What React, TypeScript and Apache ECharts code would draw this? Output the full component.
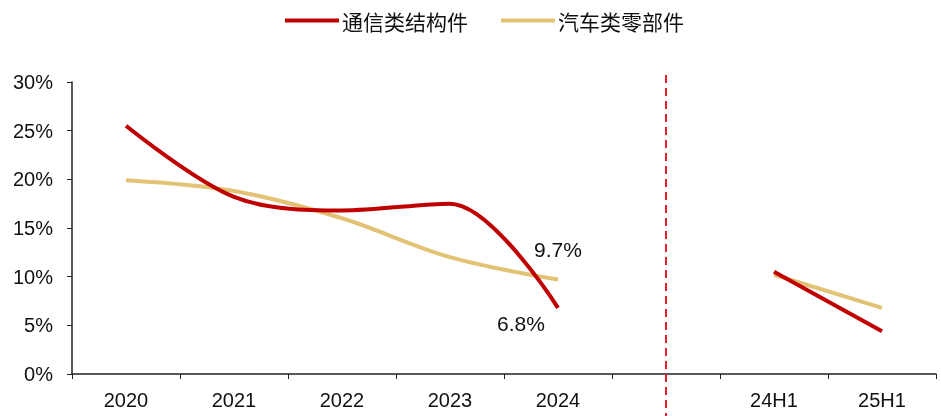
import React, { useEffect, useRef } from "react";
import * as echarts from "echarts";

const categories = ["2020", "2021", "2022", "2023", "2024", "", "24H1", "25H1"];
const commStruct = [25.5, 18.2, 16.8, 17.5, 6.8, null, 10.5, 4.4];
const autoParts = [19.9, 18.8, 16.0, 12.0, 9.7, null, 10.2, 6.8];
const seriesNames = ["通信类结构件", "汽车类零部件"];
const yTicks = { min: 0, max: 30, interval: 5 };
const dividerIndex = 5;
const labelIndex = 4;

const RED = "#C00000";
const GOLD = "#E2C275";
const FONT = "Liberation Sans, Arial, sans-serif";

export default function App() {
  const ref = useRef<HTMLDivElement>(null);
  useEffect(() => {
    if (!ref.current) return;
    const chart = echarts.init(ref.current, null, { renderer: "svg" });
    const mk = (arr: (number | null)[], labelOpt: any) =>
      arr.map((v, i) =>
        i === labelIndex ? { value: v, label: labelOpt } : v
      );
    chart.setOption({
      animation: false,
      textStyle: { fontFamily: FONT },
      legend: {
        top: 5,
        left: 280,
        itemWidth: 54,
        itemHeight: 4,
        itemGap: 33,
        icon: "rect",
        textStyle: {
          fontFamily: "Noto Sans CJK SC",
          fontSize: 21,
          color: "#111",
          padding: [0, 0, 0, -2],
        },
        data: seriesNames,
      },
      grid: { left: 72, right: 5, top: 82, bottom: 42 },
      xAxis: {
        type: "category",
        data: categories,
        boundaryGap: true,
        axisLine: { lineStyle: { color: "#222", width: 1.5 } },
        axisTick: { show: true, length: 5, lineStyle: { color: "#222" } },
        axisLabel: { fontSize: 20, color: "#111", margin: 16, fontFamily: FONT },
        splitLine: { show: false },
      },
      yAxis: {
        type: "value",
        min: yTicks.min,
        max: yTicks.max,
        interval: yTicks.interval,
        axisLine: { show: true, lineStyle: { color: "#222", width: 1.5 } },
        axisTick: { show: true, length: 5, lineStyle: { color: "#222" } },
        axisLabel: {
          fontSize: 20,
          color: "#111",
          margin: 19,
          fontFamily: FONT,
          formatter: "{value}%",
        },
        splitLine: { show: false },
      },
      series: [
        {
          name: seriesNames[0],
          type: "line",
          smooth: 0.33,
          showSymbol: true,
          symbol: "circle",
          symbolSize: 0,
          connectNulls: false,
          lineStyle: { color: RED, width: 4 },
          itemStyle: { color: RED },
          data: mk(commStruct, {
            show: true,
            position: "bottom",
            offset: [-37, 0],
            fontSize: 21,
            color: "#111",
            fontFamily: FONT,
            formatter: "{c}%",
          }),
          z: 3,
        },
        {
          name: seriesNames[1],
          type: "line",
          smooth: 0.33,
          showSymbol: true,
          symbol: "circle",
          symbolSize: 0,
          connectNulls: false,
          lineStyle: { color: GOLD, width: 4 },
          itemStyle: { color: GOLD },
          data: mk(autoParts, {
            show: true,
            position: "top",
            offset: [0, -15],
            fontSize: 21,
            color: "#111",
            fontFamily: FONT,
            formatter: "{c}%",
          }),
          z: 2,
        },
      ],
    });
    const x = chart.convertToPixel({ xAxisIndex: 0 }, dividerIndex) as number;
    chart.setOption({
      graphic: [
        {
          type: "line",
          shape: { x1: x, y1: 75, x2: x, y2: 416 },
          style: { stroke: "#E0202A", lineWidth: 2, lineDash: [8, 5] },
          z: 10,
        },
      ],
    });
    return () => chart.dispose();
  }, []);
  return (
    <div
      ref={ref}
      style={{ position: "fixed", left: 0, top: 0, width: 941, height: 416 }}
    />
  );
}
